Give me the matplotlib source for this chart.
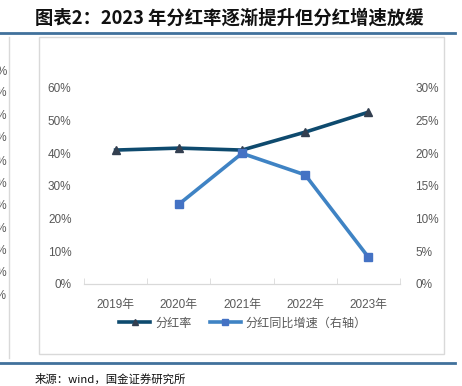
import matplotlib
matplotlib.use("Agg")
import matplotlib.pyplot as plt
from matplotlib.lines import Line2D
from matplotlib.patches import Rectangle
from matplotlib.ticker import PercentFormatter

plt.rcParams['font.family'] = ['Liberation Sans', 'Noto Sans CJK SC', 'DejaVu Sans']

# dados
anos = ["2019年", "2020年", "2021年", "2022年", "2023年"]
taxa_dividendo = [41.0, 41.6, 41.0, 46.5, 52.6]          # eixo esquerdo
crescimento_dividendo = [None, 12.2, 20.0, 16.7, 4.1]     # eixo direito

titulo = "图表2：2023 年分红率逐渐提升但分红增速放缓"
fonte = "来源：wind，国金证券研究所"
rotulos_serie = ["分红率", "分红同比增速（右轴）"]

cinza = "#595959"
cor_taxa = "#0E4A6E"
cor_marcador_taxa = "#333F50"
cor_cresc = "#3F83C4"
cor_marcador_cresc = "#4472C4"
cor_faixa = "#41719C"

W, H = 462, 386
fig = plt.figure(figsize=(W / 100, H / 100), dpi=100)

def fx(px):
    return px / W

def fy(py):
    return 1 - py / H

# moldura do gráfico e restos do painel à esquerda
fig.patches.append(Rectangle((fx(39), fy(354)), fx(444) - fx(39), fy(37) - fy(354),
                             transform=fig.transFigure, fill=False,
                             edgecolor="#D9D9D9", linewidth=1))
fig.lines.append(Line2D([fx(9), fx(9)], [fy(37), fy(358)], transform=fig.transFigure,
                        color="#D9D9D9", linewidth=1))
for i, yp in enumerate([72, 93, 116, 138, 162, 184, 206, 229, 251, 273, 296]):
    fig.text(fx(7), fy(yp), f"{(10 - i) * 10}%", ha="right", va="center",
             fontsize=8.5, color=cinza)

# faixas azuis de cima e de baixo
for yp in (33, 363):
    fig.lines.append(Line2D([0, fx(455)], [fy(yp), fy(yp)], transform=fig.transFigure,
                            color=cor_faixa, linewidth=2))

fig.text(fx(35), fy(18), titulo, ha="left", va="center", fontsize=13.2,
         fontweight="bold", fontstyle="italic", color="#111111",
         family=['Noto Sans CJK SC', 'DejaVu Sans'])
fig.text(fx(35), fy(379), fonte, ha="left", va="center", fontsize=8.2,
         color="#111111", family=['Noto Sans CJK SC', 'DejaVu Sans'])

ax = fig.add_axes([fx(84), fy(284), fx(400) - fx(84), fy(88) - fy(284)])
ax2 = ax.twinx()

x = list(range(len(anos)))
ax.plot(x, taxa_dividendo, color=cor_taxa, linewidth=2.6, marker="^",
        markersize=5.5, markerfacecolor=cor_marcador_taxa,
        markeredgecolor=cor_marcador_taxa, zorder=3)
xs = [xi for xi, v in zip(x, crescimento_dividendo) if v is not None]
ys = [v for v in crescimento_dividendo if v is not None]
ax2.plot(xs, ys, color=cor_cresc, linewidth=2.6, marker="s", markersize=5.5,
         markerfacecolor=cor_marcador_cresc, markeredgecolor=cor_marcador_cresc, zorder=2)

ax.set_xlim(-0.5, len(anos) - 0.5)
ax.set_ylim(0, 60)
ax2.set_ylim(0, 30)
ax.set_yticks(range(0, 61, 10))
ax2.set_yticks(range(0, 31, 5))
ax.yaxis.set_major_formatter(PercentFormatter(decimals=0))
ax2.yaxis.set_major_formatter(PercentFormatter(decimals=0))

ax.set_xticks(x)
ax.set_xticklabels(anos)
ax.set_xticks([i + 0.5 for i in range(-1, len(anos))], minor=True)
ax.tick_params(axis="x", which="major", length=0, pad=11, labelsize=8.5, labelcolor=cinza)
ax.tick_params(axis="x", which="minor", direction="in", length=4, color="#D9D9D9")
ax.tick_params(axis="y", length=0, pad=9, labelsize=8.5, labelcolor=cinza)
ax2.tick_params(axis="y", length=0, pad=11, labelsize=8.5, labelcolor=cinza)

for a in (ax, ax2):
    for lado in ("top", "left", "right"):
        a.spines[lado].set_visible(False)
    a.spines["bottom"].set_color("#D9D9D9")
    a.patch.set_visible(False)

handles = [
    Line2D([], [], color=cor_taxa, linewidth=2.6, marker="^", markersize=4,
           markerfacecolor=cor_marcador_taxa, markeredgecolor=cor_marcador_taxa),
    Line2D([], [], color=cor_cresc, linewidth=2.6, marker="s", markersize=4,
           markerfacecolor=cor_marcador_cresc, markeredgecolor=cor_marcador_cresc),
]
leg = fig.legend(handles, rotulos_serie, loc="center", bbox_to_anchor=(fx(243), fy(323)),
                 ncol=2, frameon=False, handlelength=2.6,
                 handletextpad=0.4, columnspacing=1.5,
                 prop={'family': ['Noto Sans CJK SC', 'DejaVu Sans'], 'size': 8.7})
for t in leg.get_texts():
    t.set_color(cinza)

fig.savefig("out.png", dpi=100)
